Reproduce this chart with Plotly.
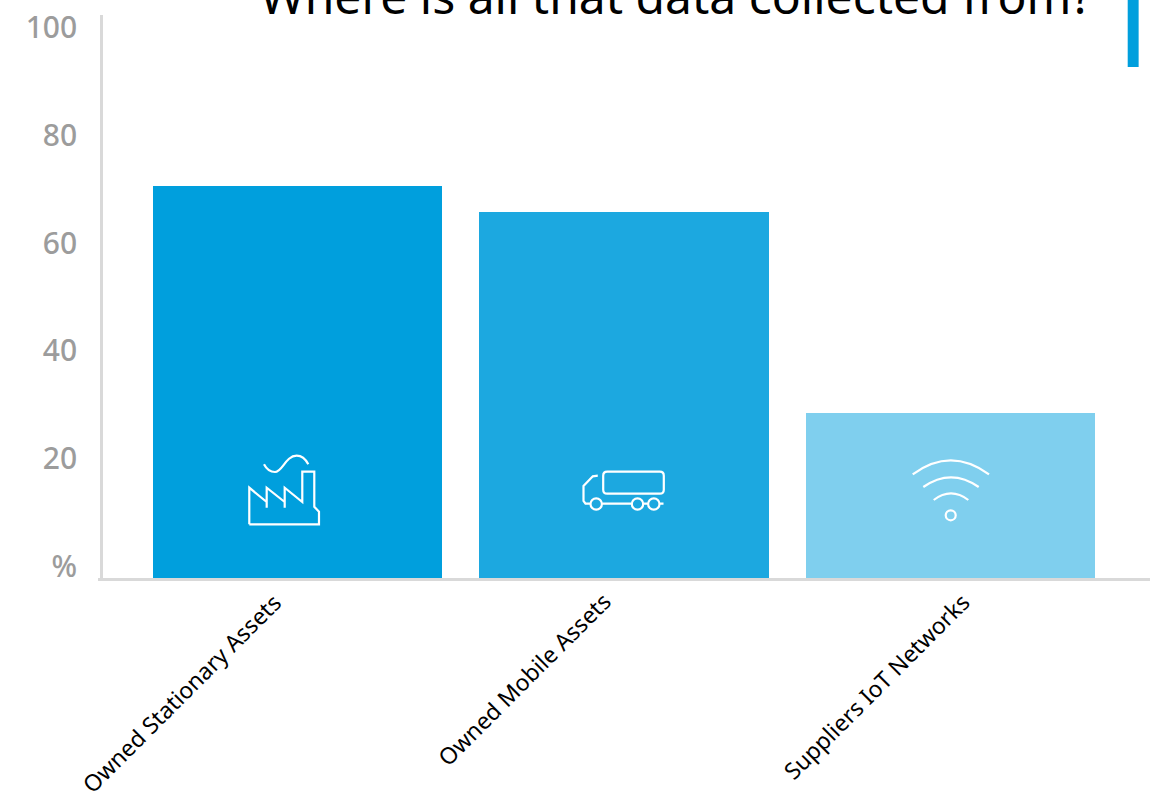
import plotly.graph_objects as go

# Survey results
categories = ["Owned Stationary Assets", "Owned Mobile Assets", "Suppliers IoT Networks"]
shares = [70.6, 65.8, 28.5]
bar_colors = ["#009fdd", "#1ca8e0", "#7fcfee"]
tick_values = [0, 20, 40, 60, 80, 100]
tick_labels = ["%", "20", "40", "60", "80", "100"]
title_text = "Where is all that data collected from?"

AXIS_FLOOR = -2.2
AXIS_TOP = 102.4
FONT = "Noto Sans"
LINE = dict(color="#ffffff", width=2.2)


def ring(cx, cy, r):
    """Closed circle as cubic segments, in pixels around the anchor."""
    k = 0.5523 * r
    return (
        f"M{cx - r} {cy} C{cx - r} {cy + k} {cx - k} {cy + r} {cx} {cy + r} "
        f"C{cx + k} {cy + r} {cx + r} {cy + k} {cx + r} {cy} "
        f"C{cx + r} {cy - k} {cx + k} {cy - r} {cx} {cy - r} "
        f"C{cx - k} {cy - r} {cx - r} {cy - k} {cx - r} {cy} Z"
    )


# Line icons, in pixels relative to the centre of each bar's foot
factory = (
    "M-48.2 53.7 L-48.2 90.3 L-30.8 76 M-30.8 70.3 L-30.8 90.3 L-12.8 76 "
    "M-12.8 70.3 L-12.8 90.3 L4.8 76 L4.8 106.3 L16.8 106.3 L16.8 71.3 "
    "L21.5 66.3 L21.5 53.7 L-48.2 53.7 "
    "M-33.5 113.7 C-30 107 -26 106 -22.5 106 C-15 106 -12 122.3 -0.8 122.3 "
    "C4 122.3 8 119 10.8 113.7"
)
truck = (
    "M-16.8 106.3 L35.8 106.3 C38.5 106.3 39.8 105 39.8 102.3 L39.8 88.3 "
    "C39.8 85.6 38.5 84.3 35.8 84.3 L-16.8 84.3 C-19.5 84.3 -20.8 85.6 -20.8 88.3 "
    "L-20.8 102.3 C-20.8 105 -19.5 106.3 -16.8 106.3 Z "
    "M-26.2 102.3 L-31.2 101.7 L-40.5 92 L-40.5 77 L-38.5 74.3 L-33.5 74.3 "
    "M-22.2 74.3 L7.8 74.3 M19.2 74.3 L24.2 74.3 M35.5 74.3 L39.5 74.3 "
    + ring(-27.8, 74, 5.7) + " " + ring(13.5, 74, 5.7) + " " + ring(29.8, 74, 5.7)
)
wifi = (
    "M-37.8 103.7 Q0.2 131.7 38.5 103.7 "
    "M-27.2 91 Q0.5 110.3 28.2 91 "
    "M-16.8 78 Q0.5 91.3 17.8 78 "
    + ring(0.2, 62.7, 5)
)
icons = [factory, truck, wifi]

fig = go.Figure(
    go.Bar(
        x=categories,
        y=[v - AXIS_FLOOR for v in shares],
        base=AXIS_FLOOR,
        width=0.886,
        marker=dict(color=bar_colors, line=dict(width=0)),
        hoverinfo="skip",
    )
)

for name, path in zip(categories, icons):
    fig.add_shape(
        type="path", path=path, line=LINE,
        xref="x", yref="y",
        xsizemode="pixel", ysizemode="pixel",
        xanchor=name, yanchor=AXIS_FLOOR,
    )

# Accent stripe in the top right corner
fig.add_shape(
    type="rect", xref="paper", yref="paper",
    x0=0.9788, x1=0.9892, y0=0.9076, y1=1.05,
    fillcolor="#009fdd", line=dict(width=0), layer="above",
)

# Slanted category labels
label_offsets = [(-116, -115), (-100, -101), (-74, -108)]
for name, (dx, dy) in zip(categories, label_offsets):
    fig.add_annotation(
        x=name, y=AXIS_FLOOR, xref="x", yref="y",
        text=name, textangle=-45, showarrow=False,
        xshift=dx, yshift=dy,
        font=dict(family=FONT, size=23, color="#000000"),
    )

fig.add_annotation(
    x=0.5, y=1, xref="paper", yref="paper",
    text=title_text, showarrow=False, xanchor="center", yanchor="middle",
    xshift=52, yshift=20,
    font=dict(family=FONT, size=48, color="#000000"),
)

fig.update_layout(
    width=1153,
    height=795,
    margin=dict(l=98, r=3, t=15, b=217, autoexpand=False),
    paper_bgcolor="#ffffff",
    plot_bgcolor="#ffffff",
    showlegend=False,
    bargap=0,
    xaxis=dict(
        range=[-0.611, 2.611],
        showticklabels=False,
        ticks="",
        showgrid=False,
        showline=True,
        linecolor="#d9d9d9",
        linewidth=3,
        zeroline=False,
    ),
    yaxis=dict(
        range=[AXIS_FLOOR, AXIS_TOP],
        tickvals=tick_values,
        ticktext=tick_labels,
        ticks="",
        ticklabelstandoff=17,
        showgrid=False,
        zeroline=False,
        showline=True,
        linecolor="#d9d9d9",
        linewidth=3,
        anchor="free",
        position=0.003,
        tickfont=dict(family=FONT, size=30, color="#9c9c9c", weight=500),
    ),
)

fig.write_html("out.html", config=dict(displayModeBar=False))
